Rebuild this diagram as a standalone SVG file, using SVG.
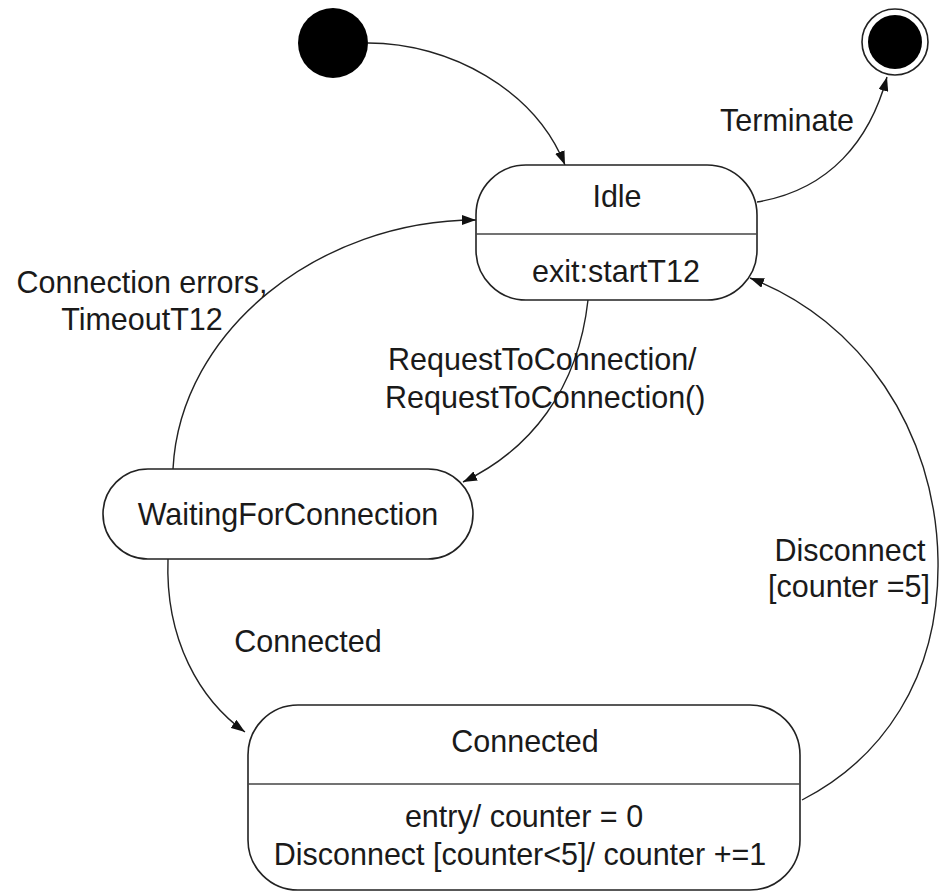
<svg xmlns="http://www.w3.org/2000/svg" width="939" height="894" viewBox="0 0 939 894">
<defs>
<marker id="arr" viewBox="0 0 14 10" refX="14" refY="5" markerWidth="14" markerHeight="10" markerUnits="userSpaceOnUse" orient="auto">
<path d="M0,0 L14,5 L0,10 Z" fill="#111"/>
</marker>
<style>
.st{fill:#fff;stroke:#222;stroke-width:1.6}
.dv{stroke:#444;stroke-width:1.6;fill:none}
.cn{fill:none;stroke:#222;stroke-width:1.4;marker-end:url(#arr)}
text{font-family:"Liberation Sans",Arial,sans-serif;font-size:30.5px;fill:#1a1a1a}
.m{text-anchor:middle}
</style>
</defs>
<rect width="939" height="894" fill="#fff"/>
<g id="connectors">
<path class="cn" d="M368,43 C450,43 535,90 565,165"/>
<path class="cn" d="M757,202 C830,190 870,140 887,77"/>
<path class="cn" d="M173,469 C180,330 320,220 476,220"/>
<path class="cn" d="M588,300 C578,390 530,450 463,482"/>
<path class="cn" d="M168,559 C165,640 200,700 245,732"/>
<path class="cn" d="M802,800 C880,760 940,680 938,560 C936,430 860,320 750,278"/>
<text class="m" x="787" y="131">Terminate</text>
<text class="m" x="142" y="293">Connection errors,</text>
<text class="m" x="142" y="330">TimeoutT12</text>
<text x="388" y="370">RequestToConnection/</text>
<text x="385" y="408">RequestToConnection()</text>
<text class="m" x="308" y="652">Connected</text>
<text class="m" x="850" y="561">Disconnect</text>
<text class="m" x="849" y="597">[counter =5]</text>
</g>
<g id="initial">
<circle cx="333" cy="43" r="35" fill="#000"/>
</g>
<g id="final">
<circle cx="895" cy="42" r="33" fill="#fff" stroke="#222" stroke-width="1.6"/>
<circle cx="895" cy="42" r="27" fill="#000"/>
</g>
<g id="idle">
<rect class="st" x="476" y="165" width="281" height="135" rx="50" ry="50"/>
<line class="dv" x1="476" y1="234" x2="757" y2="234"/>
<text class="m" x="617" y="207">Idle</text>
<text class="m" x="616" y="282">exit:startT12</text>
</g>
<g id="waiting">
<rect class="st" x="103" y="469" width="370" height="90" rx="45" ry="45"/>
<text class="m" x="288" y="525">WaitingForConnection</text>
</g>
<g id="connected">
<rect class="st" x="248" y="705" width="552" height="185" rx="50" ry="50"/>
<line class="dv" x1="248" y1="784" x2="800" y2="784"/>
<text class="m" x="525" y="752">Connected</text>
<text class="m" x="524" y="827">entry/ counter = 0</text>
<text class="m" x="520" y="865">Disconnect [counter&lt;5]/ counter +=1</text>
</g>
</svg>
